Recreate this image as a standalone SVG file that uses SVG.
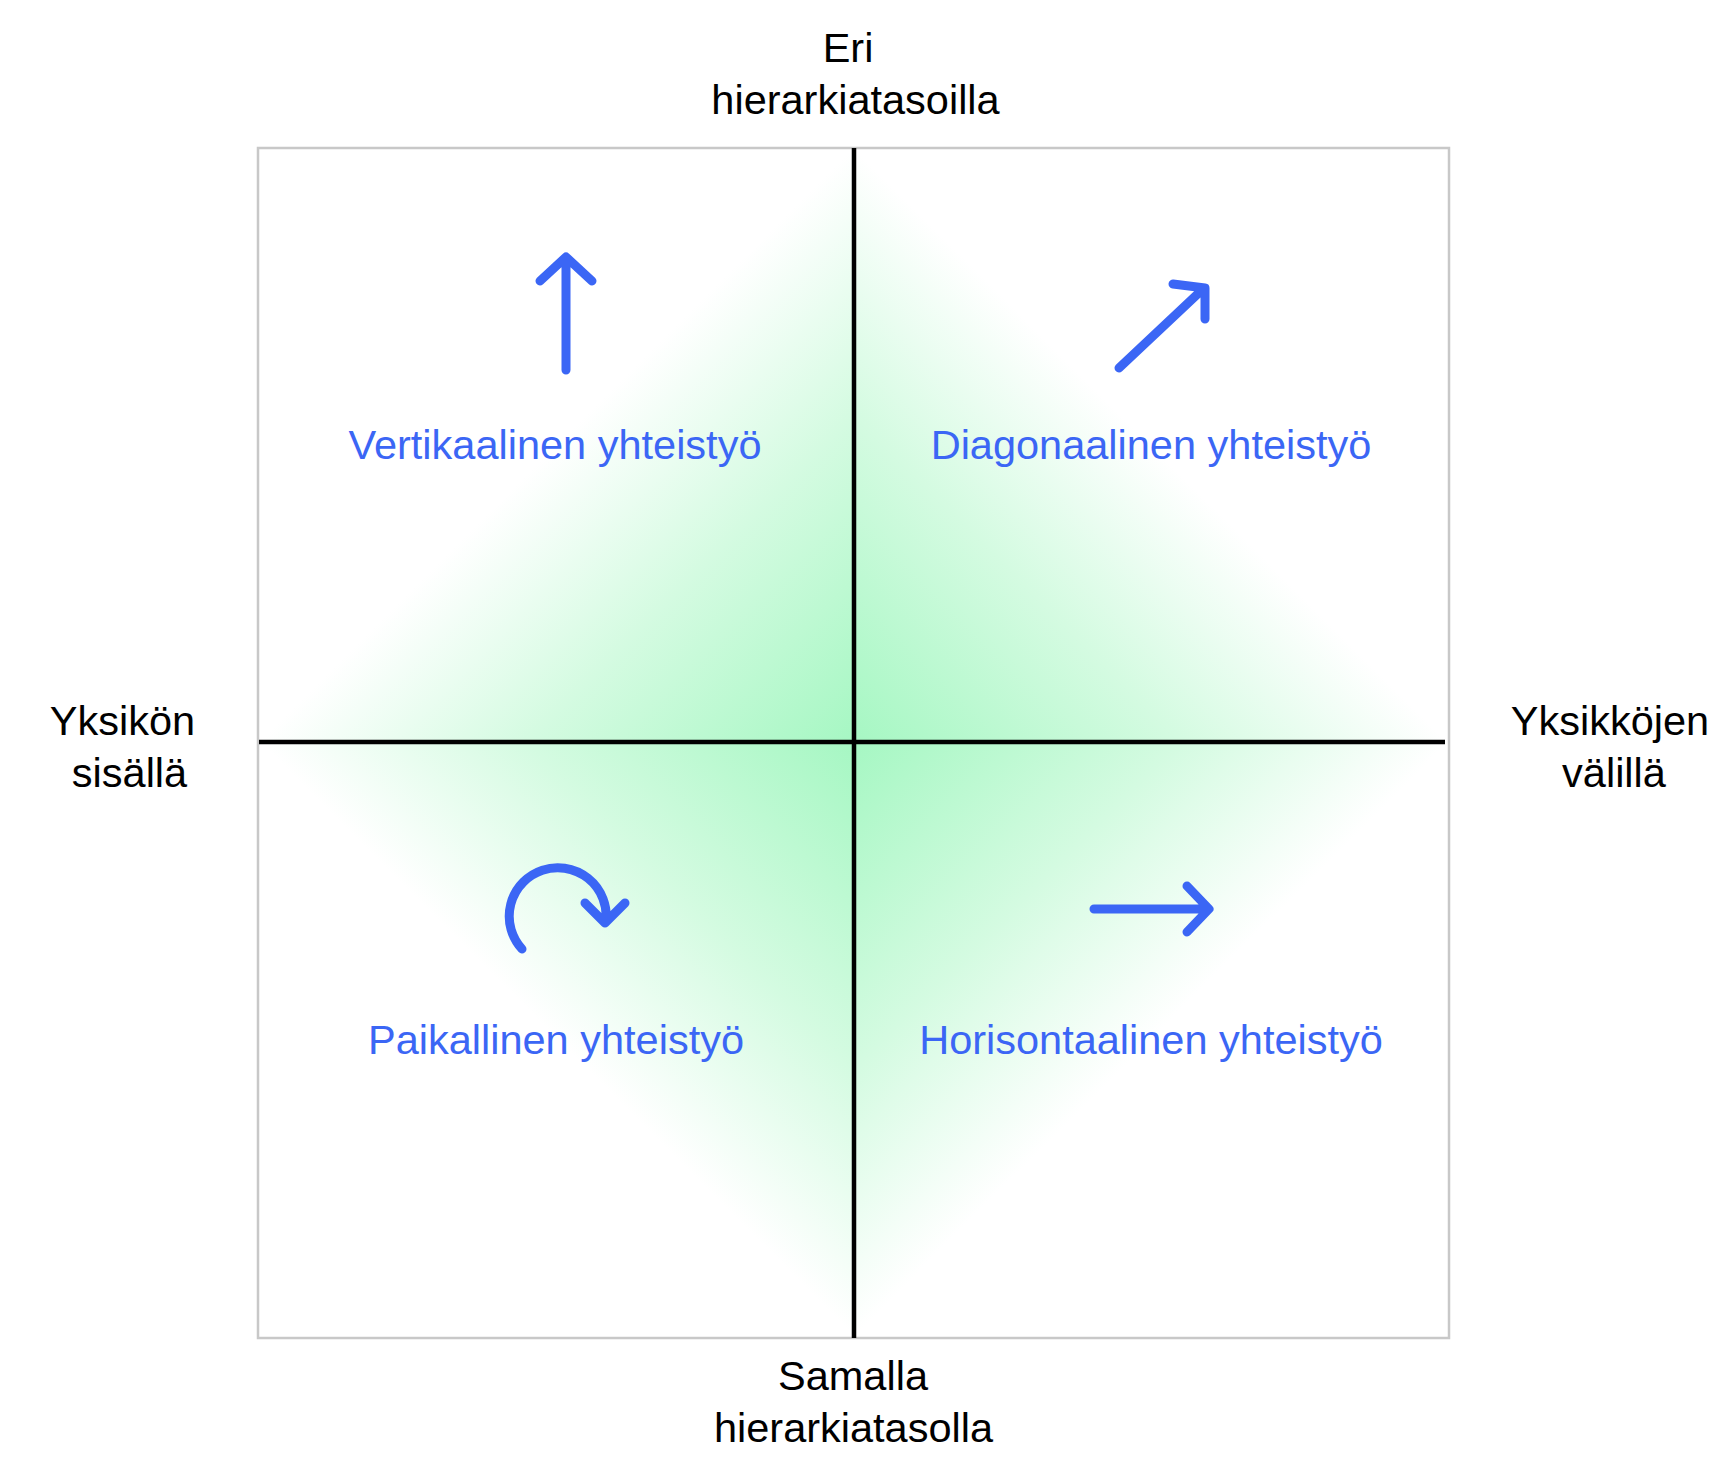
<svg xmlns="http://www.w3.org/2000/svg" width="1732" height="1464" viewBox="0 0 1732 1464">
<style>
.ax{font-family:"Liberation Sans",Arial,Helvetica,sans-serif;font-size:41.5px;fill:#000;text-anchor:middle}
.ql{font-family:"Liberation Sans",Arial,Helvetica,sans-serif;font-size:41.5px;fill:#3b66f5;text-anchor:middle}
.ic{fill:none;stroke:#3b66f5;stroke-width:9;stroke-linecap:round;stroke-linejoin:round}
.axis{stroke:#000;stroke-width:4.5;fill:none}
</style>
<defs>
<linearGradient id="gUR" gradientUnits="userSpaceOnUse" x1="854" y1="742" x2="1151" y2="445">
<stop offset="0" stop-color="#a6f7c3"/><stop offset="0.55" stop-color="#d4fbe1"/><stop offset="1" stop-color="#ffffff"/>
</linearGradient>
<linearGradient id="gUL" gradientUnits="userSpaceOnUse" x1="854" y1="742" x2="557" y2="445">
<stop offset="0" stop-color="#a6f7c3"/><stop offset="0.55" stop-color="#d4fbe1"/><stop offset="1" stop-color="#ffffff"/>
</linearGradient>
<linearGradient id="gLL" gradientUnits="userSpaceOnUse" x1="854" y1="742" x2="557" y2="1039">
<stop offset="0" stop-color="#a6f7c3"/><stop offset="0.55" stop-color="#d4fbe1"/><stop offset="1" stop-color="#ffffff"/>
</linearGradient>
<linearGradient id="gLR" gradientUnits="userSpaceOnUse" x1="854" y1="742" x2="1151" y2="1039">
<stop offset="0" stop-color="#a6f7c3"/><stop offset="0.55" stop-color="#d4fbe1"/><stop offset="1" stop-color="#ffffff"/>
</linearGradient>
</defs>
<rect x="0" y="0" width="1732" height="1464" fill="#fff"/>
<g id="background">
<polygon points="854,742 1448,742 854,148" fill="url(#gUR)"/>
<polygon points="854,742 260,742 854,148" fill="url(#gUL)"/>
<polygon points="854,742 260,742 854,1336" fill="url(#gLL)"/>
<polygon points="854,742 1448,742 854,1336" fill="url(#gLR)"/>
<rect x="258" y="148" width="1191" height="1190" fill="none" stroke="#c8c8c8" stroke-width="2.5"/>
</g>
<g id="connectors">
<line class="axis" x1="854" y1="148" x2="854" y2="1338"/>
<line class="axis" x1="259" y1="742" x2="1445" y2="742"/>
</g>
<g id="label-top">
<text class="ax" x="848" y="62">Eri</text>
<text class="ax" x="855.5" y="114">hierarkiatasoilla</text>
</g>
<g id="label-bottom">
<text class="ax" x="853" y="1390">Samalla</text>
<text class="ax" x="853.5" y="1442">hierarkiatasolla</text>
</g>
<g id="label-left">
<text class="ax" x="122.5" y="735">Yksikön</text>
<text class="ax" x="129.5" y="787">sisällä</text>
</g>
<g id="label-right">
<text class="ax" x="1610" y="735">Yksikköjen</text>
<text class="ax" x="1614" y="787">välillä</text>
</g>
<g id="vertical">
<path class="ic" d="M566,370 L566,258 M540,281 L566,257 L592,281"/>
<text class="ql" x="555" y="459">Vertikaalinen yhteistyö</text>
</g>
<g id="diagonal">
<path class="ic" d="M1119,368 L1203,289 M1173,284 L1205,288 L1205,319"/>
<text class="ql" x="1151" y="459">Diagonaalinen yhteistyö</text>
</g>
<g id="local">
<path class="ic" d="M522,949 A48.5,48.5 0 1 1 606,921 M585,903 L605,923 L625,903"/>
<text class="ql" x="556" y="1054">Paikallinen yhteistyö</text>
</g>
<g id="horizontal">
<path class="ic" d="M1094,909 L1207,909 M1187,886 L1209,909 L1187,932"/>
<text class="ql" x="1151" y="1054">Horisontaalinen yhteistyö</text>
</g>
</svg>
